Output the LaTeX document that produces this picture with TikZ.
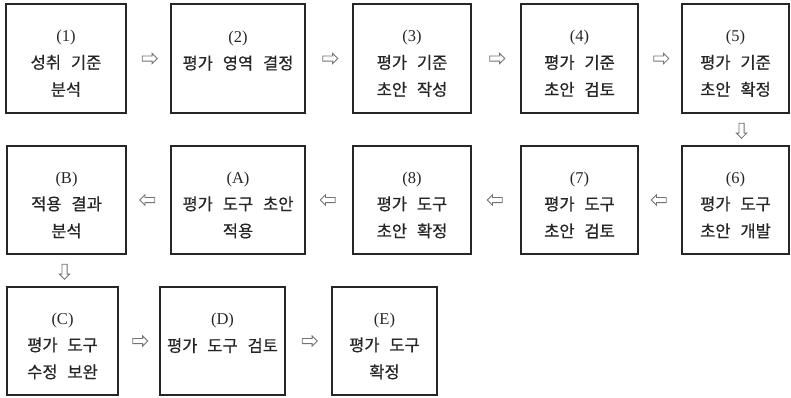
\documentclass[tikz,border=0pt]{standalone}
\usepackage{fontspec}
\setmainfont{Liberation Serif}
\newfontfamily\kr[FakeBold=0.6]{Noto Sans CJK KR}
\usetikzlibrary{shapes.arrows}
\newcommand\wsp{\hspace{0.6em}}
\tikzset{
  box/.style={draw=black!85, line width=1.3pt, inner sep=0pt},
  boxtext/.style={inner sep=0pt, align=center, text=black!85,
    font=\fontsize{16.5}{27}\selectfont},
  harr/.style={draw=black!55, line width=0.8pt, single arrow, inner sep=0pt,
    inner ysep=2.2pt, minimum height=15pt, single arrow head extend=2.6pt,
    single arrow head indent=0pt},
}
% box helper: name, left, top, right, bottom, text
\newcommand\mybox[6]{%
  \node[box, minimum width={(#4-#2)*1pt}, minimum height={(#5-#3)*1pt}]
    (#1) at ({(#2+#4)/2},{(#3+#5)/2}) {};
  \node[boxtext, yshift=-5pt] (#1t) at (#1.center) {#6};}
\begin{document}
\begin{tikzpicture}[x=1pt,y=-1pt]
\useasboundingbox[fill=white] (0,0) rectangle (791,397);
% row 1
\mybox{n1}{6}{4}{126}{113}{(1)\\{\kr 성취\wsp 기준}\\{\kr 분석}}
\mybox{n2}{171}{4}{305}{113}{(2)\\{\kr 평가\wsp 영역\wsp 결정}\\\mbox{}}
\mybox{n3}{353}{4}{471}{113}{(3)\\{\kr 평가\wsp 기준}\\{\kr 초안\wsp 작성}}
\mybox{n4}{521}{4}{638}{113}{(4)\\{\kr 평가\wsp 기준}\\{\kr 초안\wsp 검토}}
\mybox{n5}{682}{4}{789}{113}{(5)\\{\kr 평가\wsp 기준}\\{\kr 초안\wsp 확정}}
% row 2
\mybox{nB}{7}{146}{126}{254}{(B)\\{\kr 적용\wsp 결과}\\{\kr 분석}}
\mybox{nA}{171}{146}{305}{254}{(A)\\{\kr 평가\wsp 도구\wsp 초안}\\{\kr 적용}}
\mybox{n8}{353}{146}{471}{254}{(8)\\{\kr 평가\wsp 도구}\\{\kr 초안\wsp 확정}}
\mybox{n7}{521}{146}{638}{254}{(7)\\{\kr 평가\wsp 도구}\\{\kr 초안\wsp 검토}}
\mybox{n6}{682}{146}{789}{254}{(6)\\{\kr 평가\wsp 도구}\\{\kr 초안\wsp 개발}}
% row 3
\mybox{nC}{7}{287}{118}{395}{(C)\\{\kr 평가\wsp 도구}\\{\kr 수정\wsp 보완}}
\mybox{nD}{160}{287}{285}{395}{(D)\\{\kr 평가\wsp 도구\wsp 검토}\\\mbox{}}
\mybox{nE}{332}{287}{437}{395}{(E)\\{\kr 평가\wsp 도구}\\{\kr 확정}}
% arrows
\path (n1.east) -- node[harr] (a12) {} (n2.west);
\path (n2.east) -- node[harr] (a23) {} (n3.west);
\path (n3.east) -- node[harr] (a34) {} (n4.west);
\path (n4.east) -- node[harr] (a45) {} (n5.west);
\path ([xshift=6pt]n5.south) -- node[harr, rotate=-90] (a56) {} ([xshift=6pt]n6.north);
\path (n6.west) -- node[harr, shape border rotate=180] (a67) {} (n7.east);
\path (n7.west) -- node[harr, shape border rotate=180] (a78) {} (n8.east);
\path (n8.west) -- node[harr, shape border rotate=180] (a8A) {} (nA.east);
\path (nA.west) -- node[harr, shape border rotate=180] (aAB) {} (nB.east);
\path (nB.south) -- node[harr, rotate=-90] (aBC) {} (nC.north);
\path (nC.east) -- node[harr] (aCD) {} (nD.west);
\path (nD.east) -- node[harr] (aDE) {} (nE.west);
\end{tikzpicture}
\end{document}
